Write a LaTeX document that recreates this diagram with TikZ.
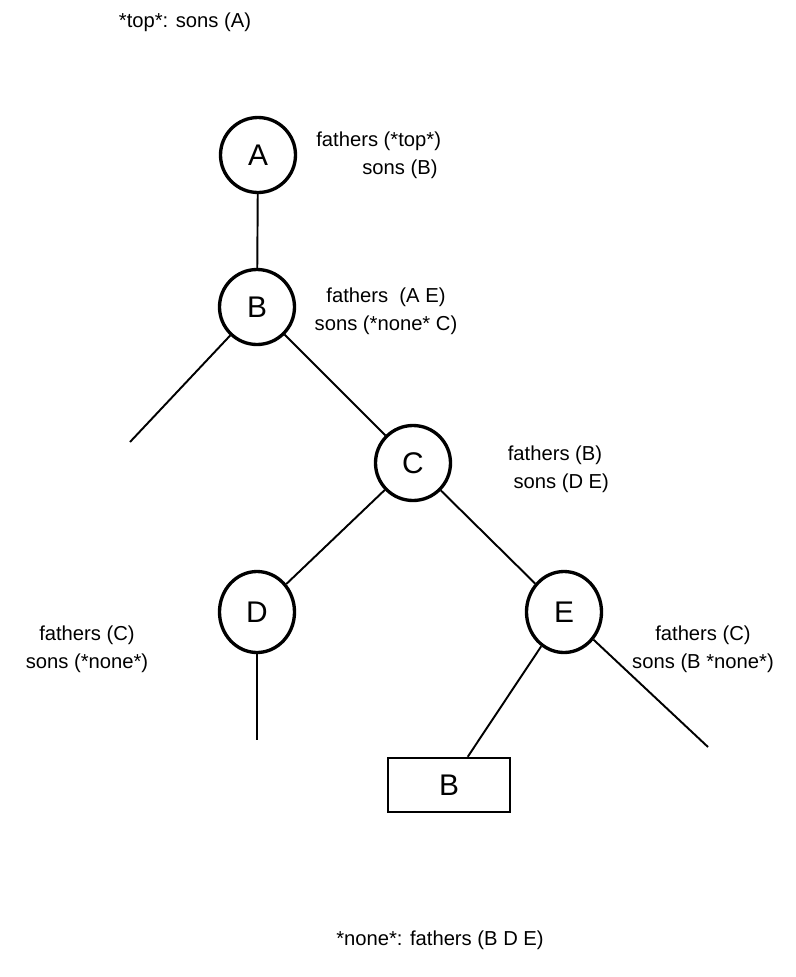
\documentclass[tikz,border=0pt]{standalone}
\usepackage{fontspec}
\setmainfont{Liberation Sans}
\usetikzlibrary{shapes.geometric}
\tikzset{
  vert/.style={circle,draw,line width=1.9pt,minimum size=1.5cm,inner sep=0pt,font=\fontsize{17}{19}\selectfont},
  vertel/.style={ellipse,draw,line width=1.9pt,minimum width=1.5cm,minimum height=1.62cm,inner sep=0pt,font=\fontsize{17}{19}\selectfont},
  leaf/.style={rectangle,draw,line width=1.4pt,minimum width=2.44cm,minimum height=1.08cm,inner sep=0pt,font=\fontsize{17}{19}\selectfont},
  lbl/.style={align=center,font=\fontsize{11.5}{16}\selectfont,inner sep=0pt},
  edge/.style={line width=1.1pt},
}
\begin{document}
\begin{tikzpicture}
  \useasboundingbox (0,0) rectangle (15.9,-19.54);
  % tree
  \node[vert] (A) at (5.16,-3.1) {A};
  \node[vert] (B) at (5.14,-6.14) {B};
  \node[vert] (C) at (8.26,-9.26) {C};
  \node[vertel] (D) at (5.14,-12.24) {D};
  \node[vertel] (E) at (11.28,-12.24) {E};
  \node[leaf] (Bx) at (8.98,-15.7) {B};
  \coordinate (bl) at (2.6,-8.84);
  \coordinate (dl) at (5.14,-14.8);
  \coordinate (er) at (14.16,-14.94);
  \draw[edge] (A) -- (B);
  \draw[edge] (B) -- (bl);
  \draw[edge] (B) -- (C);
  \draw[edge] (C) -- (D);
  \draw[edge] (C) -- (E);
  \draw[edge] (D) -- (dl);
  \draw[edge] (E) -- (Bx);
  \draw[edge] (E) -- (er);
  % labels
  \node[lbl] (ltop) at (3.7,-0.44) {*top*: sons (A)};
  \node[lbl,align=left,anchor=west] (la) at (6.32,-3.1) {fathers (*top*)\\\hspace*{0.92cm}sons (B)};
  \node[lbl] (lb) at (7.72,-6.22) {fathers \ (A E)\\sons (*none* C)};
  \node[lbl] (lc) at (11.1,-9.38) {fathers (B)\\\hspace*{0.25cm}sons (D E)};
  \node[lbl] (ld) at (1.74,-12.98) {fathers (C)\\sons (*none*)};
  \node[lbl] (le) at (14.06,-12.98) {fathers (C)\\sons (B *none*)};
  \node[lbl] (lnone) at (8.8,-18.8) {*none*: fathers (B D E)};
\end{tikzpicture}
\end{document}
